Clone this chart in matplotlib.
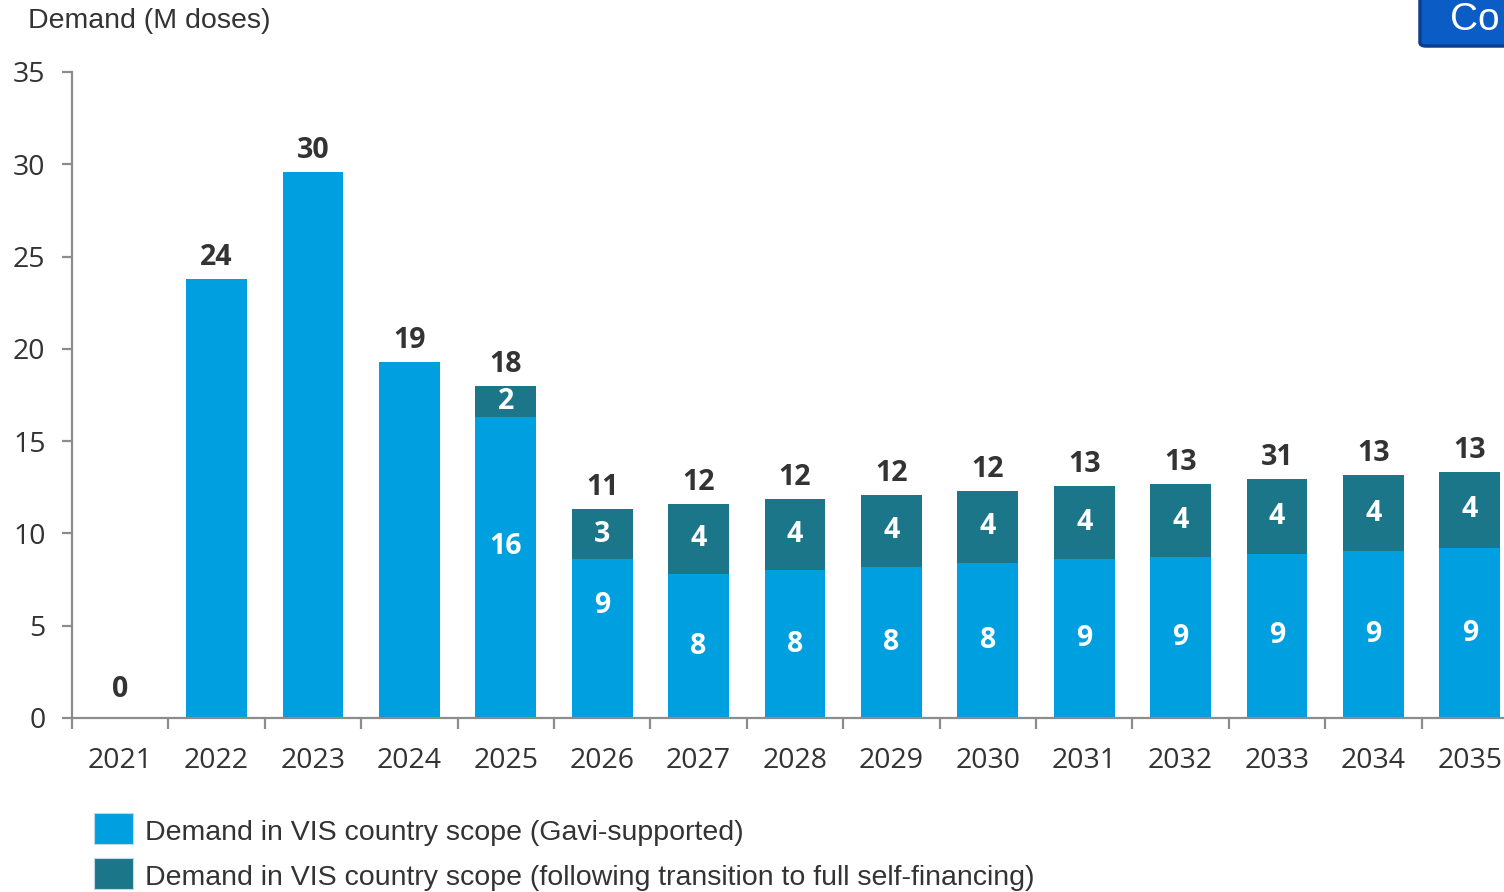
import numpy as np
import matplotlib.pyplot as plt
from matplotlib.patches import FancyBboxPatch, Rectangle

years = ["2021", "2022", "2023", "2024", "2025", "2026", "2027", "2028",
         "2029", "2030", "2031", "2032", "2033", "2034", "2035"]
gavi_supported = [0.0, 23.8, 29.6, 19.3, 16.3, 8.6, 7.8, 8.0,
                  8.2, 8.4, 8.6, 8.7, 8.9, 9.05, 9.2]
self_financing = [0.0, 0.0, 0.0, 0.0, 1.7, 2.7, 3.8, 3.85,
                  3.9, 3.9, 3.95, 4.0, 4.05, 4.1, 4.15]
total_labels = ["0", "24", "30", "19", "18", "11", "12", "12",
                "12", "12", "13", "13", "31", "13", "13"]
gavi_labels = ["", "", "", "", "16", "9", "8", "8",
               "8", "8", "9", "9", "9", "9", "9"]
self_labels = ["", "", "", "", "2", "3", "4", "4",
               "4", "4", "4", "4", "4", "4", "4"]
legend_labels = ["Demand in VIS country scope (Gavi-supported)",
                 "Demand in VIS country scope (following transition to full self-financing)"]

LIGHT = "#009FDF"
DARK = "#1B768A"
TEXT = "#333333"
AXIS = "#8C8C8C"
FS = 20.5

W, H = 1504, 892
fig = plt.figure(figsize=(W / 100, H / 100), dpi=100)
ax = fig.add_axes([72 / W, (H - 718) / H, (1518 - 72) / W, (718 - 72) / H])

x = np.arange(len(years))
gavi = np.array(gavi_supported)
selff = np.array(self_financing)
ax.bar(x, gavi, width=0.63, color=LIGHT, zorder=2)
ax.bar(x, selff, width=0.63, bottom=gavi, color=DARK, zorder=2)

ax.set_xlim(-0.5, len(years) - 0.5)
ax.set_ylim(0, 35)
ax.set_yticks(np.arange(0, 36, 5))

for s in ["top", "right"]:
    ax.spines[s].set_visible(False)
for s in ["left", "bottom"]:
    ax.spines[s].set_color(AXIS)
    ax.spines[s].set_linewidth(1.6)

ax.tick_params(axis="y", direction="out", length=7, width=1.6, color=AXIS,
               pad=12, labelsize=FS, labelcolor=TEXT)
ax.set_xticks(x)
ax.set_xticklabels(years, fontsize=FS, color=TEXT, fontfamily="Open Sans")
ax.set_xticks(np.arange(-0.5, len(years), 1.0), minor=True)
ax.tick_params(axis="x", which="major", length=0, pad=21)
ax.tick_params(axis="x", which="minor", direction="out", length=8,
               width=1.6, color=AXIS)
for lab in ax.get_yticklabels():
    lab.set_fontfamily("Open Sans")

totals = gavi + selff
for i in range(len(years)):
    ax.annotate(total_labels[i], (x[i], totals[i]), xytext=(0, 10 if i == 0 else 5),
                textcoords="offset points", ha="center", va="bottom",
                fontsize=FS, fontweight="bold", color=TEXT,
                fontfamily="Open Sans")

# some inner labels sit a little higher than the segment centre
nudge = {4: 15, 5: 24}
for i in range(len(years)):
    if gavi_labels[i]:
        ax.annotate(gavi_labels[i], (x[i], gavi[i] / 2),
                    xytext=(0, nudge.get(i, 0)), textcoords="offset points",
                    ha="center", va="center", fontsize=FS, fontweight="bold",
                    color="white", fontfamily="Open Sans")
    if self_labels[i]:
        ax.text(x[i], gavi[i] + selff[i] / 2, self_labels[i],
                ha="center", va="center", fontsize=FS, fontweight="bold",
                color="white", fontfamily="Open Sans")

fig.text(28 / W, 1 - 21 / H, "Demand (M doses)", ha="left", va="center",
         fontsize=FS, color=TEXT, fontfamily="Liberation Sans")

# legend
for k, (lab, col) in enumerate(zip(legend_labels, [LIGHT, DARK])):
    top = 813 + k * 45
    fig.patches.append(Rectangle((94 / W, 1 - (top + 31) / H), 39 / W, 31 / H,
                                 transform=fig.transFigure, facecolor=col,
                                 edgecolor="#BFD9E6", linewidth=0.8))
    fig.text(145 / W, 1 - (top + 20) / H, lab, ha="left", va="center",
             fontsize=FS, color=TEXT, fontfamily="Liberation Sans")

# clipped button in the top-right corner
fig.patches.append(FancyBboxPatch((1420 / W, 1 - 46 / H), 120 / W, 60 / H,
                                  boxstyle="round,pad=0,rounding_size=0.004",
                                  transform=fig.transFigure,
                                  facecolor="#0B5CC4", edgecolor="#0A3F8F",
                                  linewidth=2.5))
fig.text(1450 / W, 1 - 20 / H, "Co", ha="left", va="center", fontsize=28,
         color="white", fontfamily="Liberation Sans")

fig.savefig("out.png", dpi=100)
